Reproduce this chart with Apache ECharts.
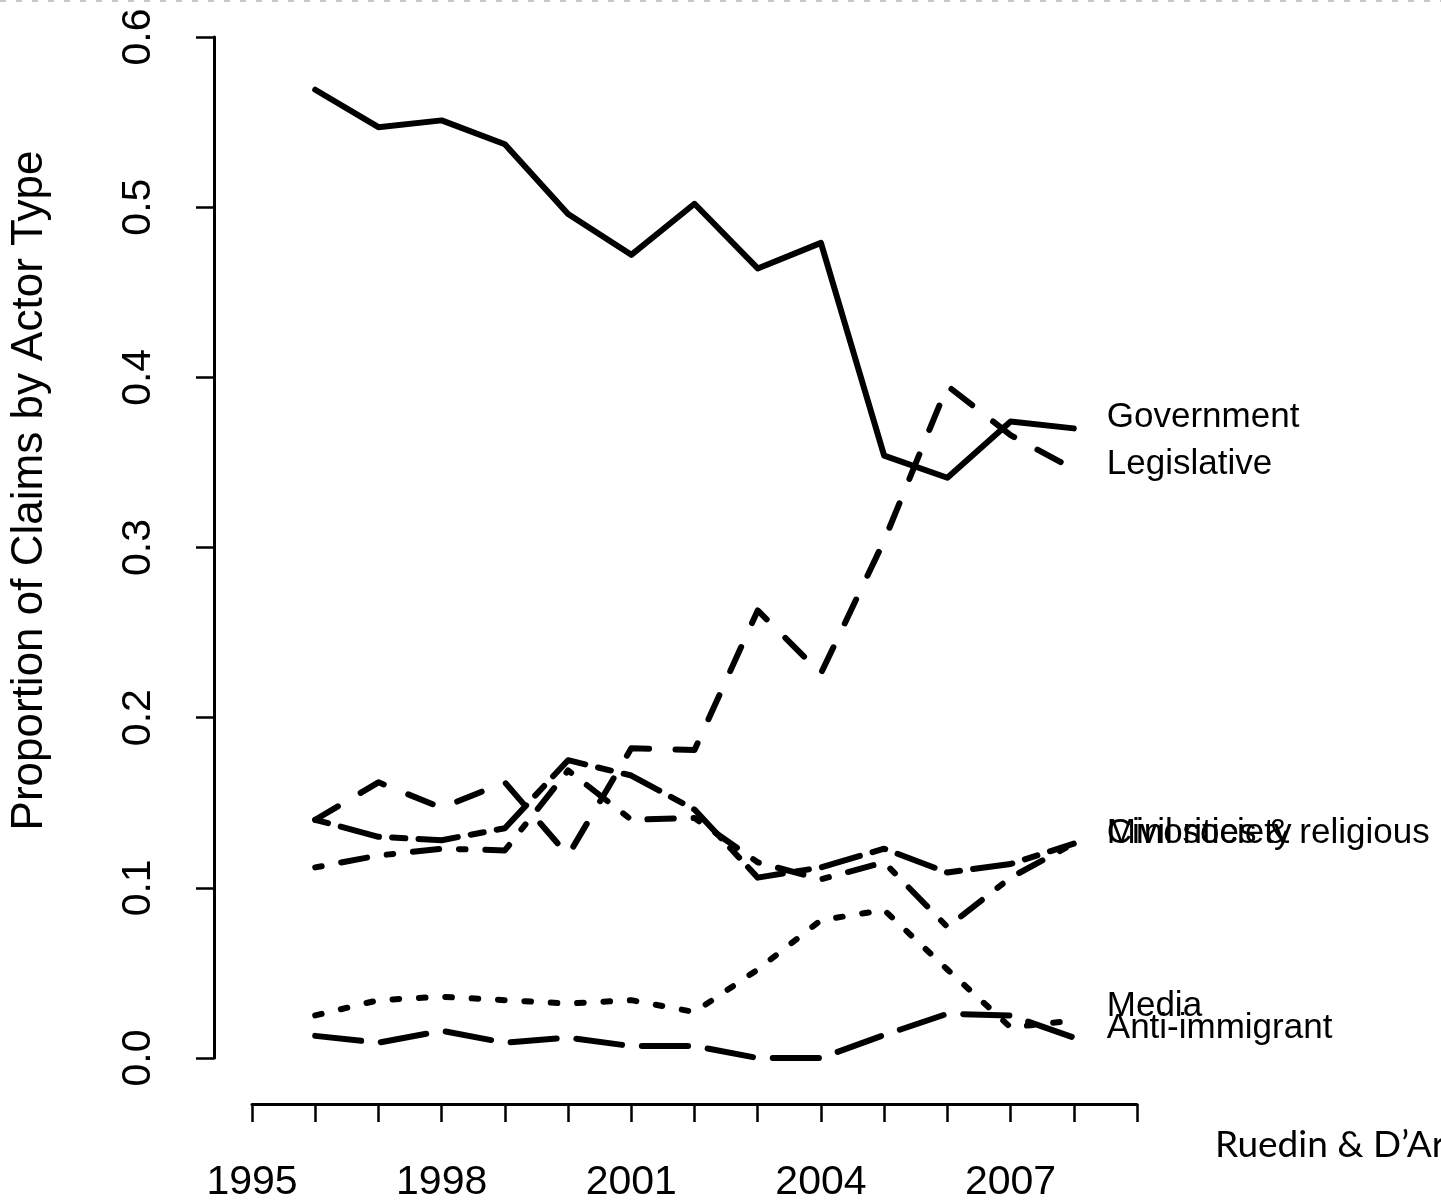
<!DOCTYPE html>
<html>
<head>
<meta charset="utf-8">
<title>Proportion of Claims by Actor Type</title>
<script src="https://cdn.jsdelivr.net/npm/echarts@6/dist/echarts.min.js"></script>
<style>
  html, body { margin: 0; padding: 0; background: #fff; }
  #main { width: 1441px; height: 1203px; }
</style>
</head>
<body>
<div id="main"></div>
<script>
// 年份
const years = [1996, 1997, 1998, 1999, 2000, 2001, 2002, 2003, 2004, 2005, 2006, 2007, 2008]
// x 轴刻度标签
const xTickLabels = [1995, 1998, 2001, 2004, 2007]
// y 轴刻度
const yTicks = [0, 0.1, 0.2, 0.3, 0.4, 0.5, 0.6]

// 各类行动者的比例
const government = [0.569, 0.547, 0.551, 0.537, 0.496, 0.472, 0.502, 0.464, 0.479, 0.354, 0.341, 0.374, 0.370]
const legislative = [0.140, 0.162, 0.147, 0.162, 0.119, 0.182, 0.181, 0.263, 0.226, 0.304, 0.395, 0.366, 0.346]
const civilSociety = [0.112, 0.119, 0.123, 0.122, 0.169, 0.140, 0.141, 0.115, 0.105, 0.115, 0.077, 0.106, 0.126]
const minorities = [0.140, 0.130, 0.128, 0.135, 0.175, 0.166, 0.146, 0.106, 0.112, 0.123, 0.109, 0.114, 0.126]
const media = [0.025, 0.034, 0.036, 0.034, 0.032, 0.034, 0.027, 0.052, 0.081, 0.087, 0.052, 0.018, 0.022]
const antiImmigrant = [0.013, 0.009, 0.016, 0.009, 0.012, 0.007, 0.007, 0.0, 0.0, 0.0135, 0.026, 0.025, 0.012]

const FONT = 'Liberation Sans'
const LW = 6
const U = 6.6 // R lty unit

// R 线型
const lty = {
  solid: 'solid',
  dashed: [4 * U, 4 * U],
  dotted: [1 * U, 3 * U],
  dotdash: [1 * U, 3 * U, 4 * U, 3 * U],
  longdash: [7 * U, 3 * U],
  twodash: [2 * U, 2 * U, 6 * U, 2 * U]
}

// dy: 末端标签的竖直微调
function makeSeries(name, values, type, dy) {
  return {
    name: name,
    type: 'line',
    data: years.map((y, i) => [y, values[i]]),
    showSymbol: false,
    symbol: 'none',
    clip: false,
    silent: true,
    lineStyle: {
      color: '#000',
      width: LW,
      type: type,
      cap: 'round',
      join: 'round'
    },
    endLabel: {
      show: true,
      formatter: name,
      distance: 33,
      offset: [0, dy],
      color: '#000',
      fontFamily: FONT,
      fontSize: 35
    }
  }
}

const myChart = echarts.init(document.getElementById('main'))

const option = {
  animation: false,
  backgroundColor: '#fff',
  grid: {
    left: 252,
    top: 37,
    width: 885,
    height: 1021,
    outerBoundsMode: 'none'
  },
  xAxis: {
    type: 'value',
    min: 1995,
    max: 2009,
    interval: 1,
    offset: 46,
    splitLine: { show: false },
    axisLine: { show: true, onZero: false, lineStyle: { color: '#000', width: 3 } },
    axisTick: { show: true, length: 18, lineStyle: { color: '#000', width: 2.5 } },
    axisLabel: {
      color: '#000',
      fontFamily: FONT,
      fontSize: 41,
      margin: 58,
      formatter: v => (xTickLabels.indexOf(v) > -1 ? String(v) : '')
    }
  },
  yAxis: {
    type: 'value',
    min: yTicks[0],
    max: yTicks[yTicks.length - 1],
    interval: 0.1,
    offset: 38,
    name: 'Proportion of Claims by Actor Type',
    nameLocation: 'middle',
    nameGap: 162,
    nameRotate: 90,
    nameTextStyle: {
      color: '#000',
      fontFamily: FONT,
      fontSize: 44,
      // 标题在原图中略偏上
      padding: [0, 0, 0, 114]
    },
    splitLine: { show: false },
    axisLine: { show: true, onZero: false, lineStyle: { color: '#000', width: 3 } },
    axisTick: { show: true, length: 18, lineStyle: { color: '#000', width: 2.5 } },
    axisLabel: {
      color: '#000',
      fontFamily: FONT,
      fontSize: 41,
      rotate: 90,
      margin: 55,
      formatter: v => v.toFixed(1)
    }
  },
  series: [
    makeSeries('Government', government, lty.solid, -11),
    makeSeries('Legislative', legislative, lty.dashed, -5),
    makeSeries('Media', media, lty.dotted, -14),
    makeSeries('Civil society', civilSociety, lty.dotdash, -10),
    makeSeries('Anti-immigrant', antiImmigrant, lty.longdash, -9),
    makeSeries('Minorities & religious', minorities, lty.twodash, -10)
  ],
  graphic: [
    {
      // 顶部幻灯片边框
      type: 'line',
      shape: { x1: 0, y1: 1, x2: 1441, y2: 1 },
      style: { stroke: '#c8c8c8', lineWidth: 2, lineDash: [6, 10] }
    },
    {
      type: 'text',
      left: 1215,
      top: 1127,
      style: {
        text: 'Ruedin & D’Ar',
        fill: '#000',
        font: '37px Lato'
      }
    }
  ]
}

myChart.setOption(option)
</script>
</body>
</html>
